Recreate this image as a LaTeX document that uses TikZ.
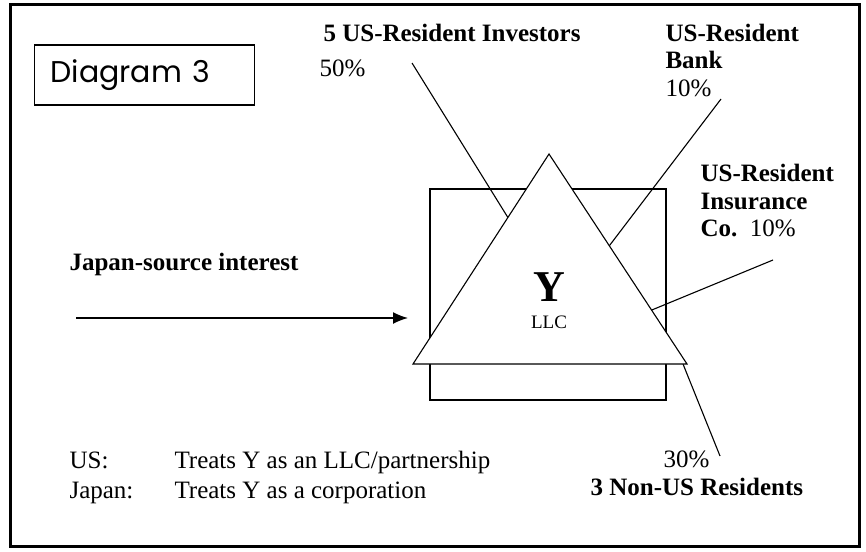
\documentclass[tikz,border=0pt]{standalone}
\usepackage{fontspec}
\setmainfont{Liberation Serif}
\newfontfamily\gothicfont{Poppins}
\usetikzlibrary{arrows.meta,positioning}

\begin{document}
\begin{tikzpicture}[x=1pt,y=-1pt,>={Latex[length=15pt,width=12pt]},line width=1.1pt]
			\tikzset{lbl/.style={inner sep=0pt,anchor=west,align=left,font=\fontsize{25}{27.5}\selectfont\bfseries},
        plain/.style={inner sep=0pt,anchor=base west,font=\fontsize{25}{27.5}\selectfont},
        tag/.style={draw,anchor=west,align=left,inner xsep=16pt,text width=188pt,minimum height=60pt,
          font=\gothicfont\fontsize{30}{30}\selectfont},
        }

			\useasboundingbox (0,0) rectangle (866,551);
			\draw[line width=3pt] (10,5) rectangle (859,546);

			\node [tag] (diagram) at (34,75) {Diagram 3};

			% the LLC box and the triangle in front of it
			\node [draw,inner sep=0pt,minimum width=236pt,minimum height=211pt] (llcbox) at (548,294.5) {};
			\coordinate (apex) at (549,154);
			\coordinate (baseleft) at (413,364);
			\coordinate (baseright) at (687,364);

			% owners
			\node [lbl] (invtitle) at (323,33) {5 US-Resident Investors};
			\node [plain] (invpct) at (319,76) {50\%};
			\node [lbl] (bank) at (665,60) {US-Resident\\Bank\\{\mdseries 10\%}};
			\node [lbl] (insur) at (700,201) {US-Resident\\Insurance\\Co.\ \ {\mdseries 10\%}};
			\node [plain] (nonuspct) at (663,467) {30\%};
			\node [lbl] (nonus) at (590,487) {3 Non-US Residents};

			\coordinate (invtop) at (412,63);
			\coordinate (invend) at (520,237);
			\coordinate (banktop) at (721,99);
			\coordinate (bankend) at (600,258);
			\coordinate (insurtop) at (773,260);
			\coordinate (insurend) at (630,319);
			\coordinate (nonusbot) at (720,456);
			\coordinate (nonusend) at (683,364);

			\path[draw] (invtop) -- (invend);
			\path[draw] (banktop) -- (bankend);
			\path[draw] (insurtop) -- (insurend);
			\path[draw] (nonusbot) -- (nonusend);

			\draw[fill=white] (apex) -- (baseleft) -- (baseright) -- cycle;
			\node [inner sep=0pt,font=\fontsize{44}{44}\selectfont\bfseries] (y) at (549,287) {Y};
			\node [inner sep=0pt,font=\fontsize{19}{19}\selectfont,below=13pt of y] (llc) {LLC};

			% income
			\node [lbl] (source) at (69,264) {Japan-source interest};
			\coordinate (flowstart) at (76,318);
			\coordinate (flowend) at (408,318);
			\path[draw,->,line width=1.5pt] (flowstart) -- (flowend);

			% treatment
			\node [plain] (us) at (69,468) {US:};
			\node [plain] (ustreat) at (174,468) {Treats Y as an LLC/partnership};
			\node [plain] (jp) at (69,498) {Japan:};
			\node [plain] (jptreat) at (174,498) {Treats Y as a corporation};

		\end{tikzpicture}
\end{document}
